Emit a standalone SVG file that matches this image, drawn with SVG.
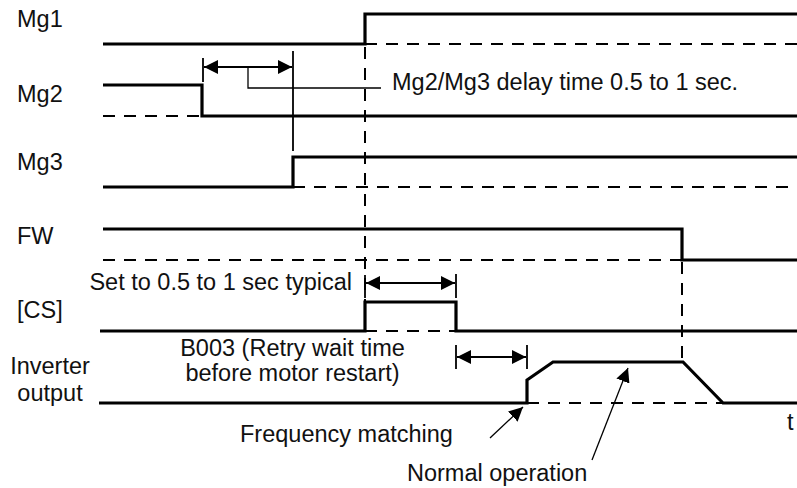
<svg xmlns="http://www.w3.org/2000/svg" width="797" height="488" viewBox="0 0 797 488">
<style>
.sig{fill:none;stroke:#000;stroke-width:3.2;stroke-linejoin:miter}
.ref{fill:none;stroke:#000;stroke-width:2;stroke-dasharray:12 9}
.thin{fill:none;stroke:#000;stroke-width:1.8}
.lead{fill:none;stroke:#000;stroke-width:1.3}
text{font-family:"Liberation Sans",Arial,sans-serif;font-size:23.5px;fill:#111}
</style>
<defs>
<marker id="ah" viewBox="0 0 14 14" refX="14" refY="7" markerWidth="14" markerHeight="14" markerUnits="userSpaceOnUse" orient="auto-start-reverse">
<path d="M0,0 L14,7 L0,14 Z" fill="#000"/>
</marker>
<marker id="ah2" viewBox="0 0 14 14" refX="14" refY="7" markerWidth="14" markerHeight="14" markerUnits="userSpaceOnUse" orient="auto">
<path d="M0,0 L14,7 L0,14 Z" fill="#000"/>
</marker>
</defs>

<g id="mg1">
<text x="17" y="27">Mg1</text>
<path class="sig" d="M103,44 H365 V14 H797"/>
<path class="ref" d="M365,44 H797"/>
</g>
<g id="mg2">
<text x="17" y="102">Mg2</text>
<path class="sig" d="M103,85 H202 V116 H797"/>
<path class="ref" d="M103,116 H202"/>
</g>
<g id="mg3">
<text x="17" y="170">Mg3</text>
<path class="sig" d="M103,187 H293 V157 H797"/>
<path class="ref" d="M293,187 H797"/>
</g>
<g id="fw">
<text x="17" y="244">FW</text>
<path class="sig" d="M103,229 H682 V260 H797"/>
<path class="ref" d="M103,260 H682"/>
</g>
<g id="cs">
<text x="17" y="318">[CS]</text>
<path class="sig" d="M100,331 H365 V302 H456 V331 H797"/>
<path class="ref" d="M365,331 H456"/>
</g>
<g id="inverter">
<text x="50" y="374" text-anchor="middle">Inverter</text>
<text x="50" y="401" text-anchor="middle">output</text>
<path class="sig" d="M99,403 H527 V380 L553,362 H683 L723,403 H797"/>
<path class="ref" d="M527,403 H723"/>
</g>
<g id="labels">
<text x="392" y="90">Mg2/Mg3 delay time 0.5 to 1 sec.</text>
<text x="352" y="290" text-anchor="end">Set to 0.5 to 1 sec typical</text>
<text x="292.5" y="356" text-anchor="middle">B003 (Retry wait time</text>
<text x="292.5" y="381" text-anchor="middle">before motor restart)</text>
<text x="240" y="442">Frequency matching</text>
<text x="407" y="481">Normal operation</text>
<text x="787" y="430">t</text>
</g>
<g id="connectors">
<path class="ref" d="M365,47 V331"/>
<path class="ref" d="M682,262 V362"/>
<path class="thin" d="M203,58 V82"/>
<path class="thin" d="M293,51 V151"/>
<path class="thin" d="M204,67 H292" marker-start="url(#ah)" marker-end="url(#ah)"/>
<path class="lead" d="M248,67 V88 H381"/>
<path class="thin" d="M365,275 V298"/>
<path class="thin" d="M456,274 V298"/>
<path class="thin" d="M366,283 H455" marker-start="url(#ah)" marker-end="url(#ah)"/>
<path class="thin" d="M456,345 V369"/>
<path class="thin" d="M527,345 V369"/>
<path class="thin" d="M457,357 H526" marker-start="url(#ah)" marker-end="url(#ah)"/>
<path class="lead" d="M490,438 L523,407" marker-end="url(#ah2)"/>
<path class="lead" d="M592,460 L628,368" marker-end="url(#ah2)"/>
</g>
</svg>
